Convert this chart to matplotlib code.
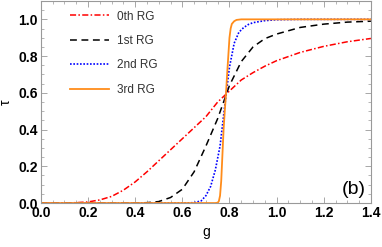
import matplotlib
matplotlib.use("Agg")
import matplotlib.pyplot as plt
from matplotlib.ticker import MultipleLocator

# ---- data ----
g0 = [0.0, 0.1, 0.15, 0.2, 0.25, 0.3, 0.35, 0.4, 0.45, 0.5, 0.55, 0.6, 0.65, 0.7,
      0.75, 0.8, 0.85, 0.9, 0.95, 1.0, 1.1, 1.2, 1.3, 1.4]
t0 = [0.0, 0.0005, 0.002, 0.006, 0.017, 0.036, 0.07, 0.115, 0.17, 0.23, 0.29, 0.35,
      0.41, 0.47, 0.55, 0.61, 0.67, 0.71, 0.745, 0.775, 0.82, 0.853, 0.878, 0.896]

g1 = [0.0, 0.4, 0.45, 0.5, 0.55, 0.6, 0.65, 0.7, 0.75, 0.8, 0.85, 0.9, 0.95, 1.0,
      1.1, 1.2, 1.3, 1.4]
t1 = [0.0, 0.0, 0.002, 0.008, 0.03, 0.075, 0.17, 0.31, 0.46, 0.64, 0.77, 0.85, 0.895,
      0.92, 0.956, 0.974, 0.985, 0.99]

g2 = [0.0, 0.6, 0.65, 0.68, 0.7, 0.72, 0.74, 0.76, 0.78, 0.8, 0.82, 0.84, 0.86, 0.88,
      0.9, 0.95, 1.0, 1.1, 1.4]
t2 = [0.0, 0.0, 0.002, 0.012, 0.04, 0.09, 0.18, 0.31, 0.53, 0.74, 0.87, 0.93, 0.955,
      0.972, 0.982, 0.993, 0.998, 1.0, 1.0]

g3 = [0.0, 0.74, 0.75, 0.755, 0.76, 0.765, 0.77, 0.775, 0.78, 0.785, 0.79, 0.795,
      0.8, 0.805, 0.81, 0.82, 0.83, 0.85, 1.4]
t3 = [0.0, 0.0, 0.002, 0.01, 0.04, 0.12, 0.26, 0.4, 0.5, 0.59, 0.7, 0.8, 0.9, 0.95,
      0.975, 0.99, 0.997, 1.0, 1.0]

labels = ["0th RG", "1st RG", "2nd RG", "3rd RG"]
xticks = [0.0, 0.2, 0.4, 0.6, 0.8, 1.0, 1.2, 1.4]
yticks = [0.0, 0.2, 0.4, 0.6, 0.8, 1.0]

plt.rcParams['font.family'] = ['Liberation Sans', 'DejaVu Sans']

fig = plt.figure(figsize=(3.82, 2.47), dpi=100)
ax = fig.add_axes([0.107, 0.178, 0.864, 0.818])

ax.plot(g0, t0, color='#FF0000', lw=1.1, ls=(0, (4, 1.5, 1, 1.5)), label=labels[0])
ax.plot(g1, t1, color='black', lw=1.1, ls=(0, (4.5, 3)), label=labels[1])
ax.plot(g2, t2, color='#0000FF', lw=1.2, ls=(0, (1, 1)), label=labels[2])
ax.plot(g3, t3, color='#FF8C1A', lw=1.3, ls='-', label=labels[3])

ax.set_xlim(0, 1.4)
ax.set_ylim(0, 1.1)
ax.set_xticks(xticks)
ax.set_yticks(yticks)
ax.set_xticklabels([f"{v:.1f}" for v in xticks], fontweight='bold', fontsize=10)
ax.set_yticklabels([f"{v:.1f}" for v in yticks], fontweight='bold', fontsize=10)
ax.xaxis.set_minor_locator(MultipleLocator(0.05))
ax.yaxis.set_minor_locator(MultipleLocator(0.05))
ax.tick_params(which='both', direction='in', top=True, right=True, color='#999999')
ax.tick_params(which='major', length=4, width=0.6, pad=2)
ax.tick_params(which='minor', length=2, width=0.5)
for s in ax.spines.values():
    s.set_color('#999999')
    s.set_linewidth(0.8)

ax.set_xlabel('g', fontsize=10, labelpad=4)
ax.set_ylabel('τ', fontsize=10, labelpad=4, rotation=90)

ax.legend(loc='upper left', bbox_to_anchor=(0.055, 1.005), frameon=False, fontsize=8.5,
          handlelength=3.3, handletextpad=0.7, labelspacing=1.05, labelcolor='#333333')

ax.text(0.985, 0.025, '(b)', transform=ax.transAxes, ha='right', va='bottom', fontsize=14)

fig.savefig('out.png', dpi=100)
